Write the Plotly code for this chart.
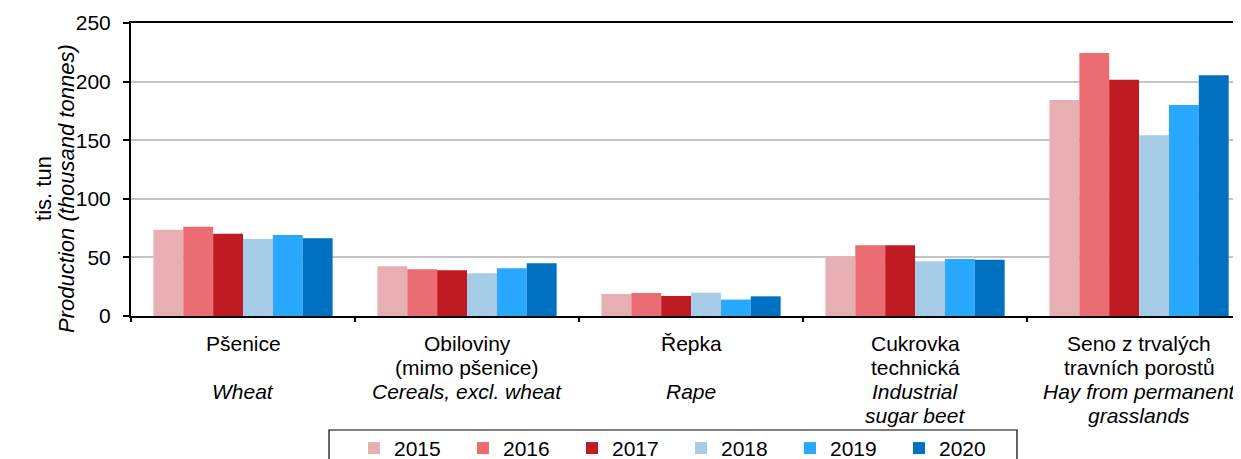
import plotly.graph_objects as go

# categories (x) and their two-language labels
categories = ["Pšenice", "Obiloviny", "Řepka", "Cukrovka", "Seno"]
labels_cz = [
    ["Pšenice", ""],
    ["Obiloviny", "(mimo pšenice)"],
    ["Řepka", ""],
    ["Cukrovka", "technická"],
    ["Seno z trvalých", "travních porostů"],
]
labels_en = [
    ["Wheat", ""],
    ["Cereals, excl. wheat", ""],
    ["Rape", ""],
    ["Industrial", "sugar beet"],
    ["Hay from permanent", "grasslands"],
]
years = ["2015", "2016", "2017", "2018", "2019", "2020"]
colors = ["#E8AFB2", "#EB6C72", "#BE1B22", "#A7CCE7", "#29A8FF", "#0070C0"]

v2015 = [73.6, 42.4, 18.8, 50.9, 184.3]
v2016 = [76.2, 39.8, 19.6, 60.3, 224.4]
v2017 = [70.2, 39.0, 17.1, 60.3, 201.6]
v2018 = [65.7, 36.4, 19.9, 46.7, 154.2]
v2019 = [69.1, 40.7, 14.0, 48.7, 180.0]
v2020 = [66.3, 45.0, 16.8, 47.9, 205.4]
values = [v2015, v2016, v2017, v2018, v2019, v2020]

font = "Liberation Sans, Arial, sans-serif"

fig = go.Figure()
for year, vals, col in zip(years, values, colors):
    fig.add_trace(go.Bar(x=categories, y=vals, name=year,
                         marker=dict(color=col, line=dict(width=0))))

fig.update_layout(
    width=1233, height=451,
    margin=dict(l=123, r=0, t=15, b=143, autoexpand=False),
    plot_bgcolor="white", paper_bgcolor="white",
    barmode="group", bargap=0.2, bargroupgap=0,
    font=dict(family=font, size=21, color="black"),
    showlegend=True,
    legend=dict(orientation="h", x=0.2009, y=-0.382, xanchor="left", yanchor="top",
                borderwidth=0, bgcolor="rgba(0,0,0,0)", font=dict(size=21),
                entrywidth=64, traceorder="normal"),
)
fig.update_xaxes(
    range=[-0.5, 4.455], showline=True, linecolor="black", linewidth=2, mirror=True,
    ticks="outside", tickson="boundaries", ticklen=4, tickwidth=2, tickcolor="black",
    showticklabels=False, showgrid=False,
)
fig.update_yaxes(
    range=[0, 250], dtick=50, showline=True, linecolor="black", linewidth=2,
    ticks="outside", ticklen=6, tickwidth=2, tickcolor="black",
    showgrid=True, gridcolor="#C4C4C4", gridwidth=1.5,
    tickfont=dict(size=21), ticklabelstandoff=8, zeroline=False,
)

# category labels: Czech lines, then English in italics
for cat, cz, en in zip(categories, labels_cz, labels_en):
    lines = [cz[0], cz[1], "<i>%s</i>" % en[0], "<i>%s</i>" % en[1] if en[1] else ""]
    for k, line in enumerate(lines):
        if not line:
            continue
        fig.add_annotation(text=line, x=cat, xref="x", y=0, yref="paper",
                           yanchor="middle", xanchor="center", showarrow=False,
                           yshift=-(27 + 24.3 * k), font=dict(size=21))

# axis title
fig.add_annotation(text="tis. tun", textangle=-90, xref="paper", yref="paper",
                   x=-0.0784, y=0.437, xanchor="center", yanchor="middle",
                   showarrow=False, font=dict(size=22))
fig.add_annotation(text="<i>Production (thousand tonnes)</i>", textangle=-90,
                   xref="paper", yref="paper", x=-0.0577, y=0.437,
                   xanchor="center", yanchor="middle", showarrow=False,
                   font=dict(size=22))

# legend frame
fig.add_shape(type="rect", xref="paper", yref="paper",
              x0=0.1784, x1=0.7982, y0=-0.389, y1=-0.75,
              line=dict(color="black", width=1.2), fillcolor="rgba(0,0,0,0)")

fig.write_html("out.html")
